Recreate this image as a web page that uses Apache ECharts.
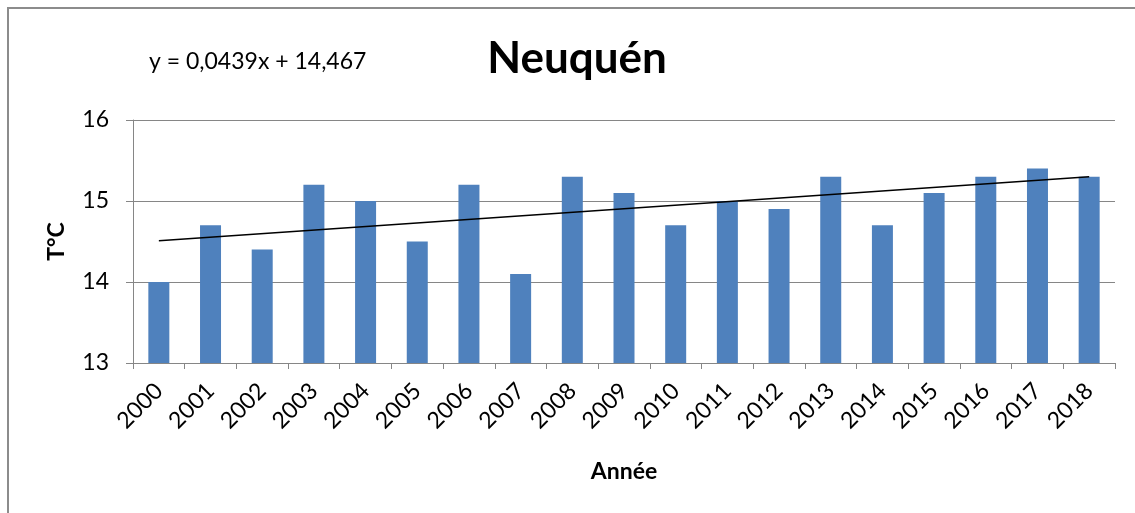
<!DOCTYPE html>
<html>
<head>
<meta charset="utf-8">
<script src="https://cdn.jsdelivr.net/npm/echarts@6/dist/echarts.min.js"></script>
<style>
  html, body { margin: 0; padding: 0; background: #fff; }
  #main { width: 1135px; height: 513px; }
</style>
</head>
<body>
<div id="main"></div>
<script>
// années et températures moyennes
var years = ['2000', '2001', '2002', '2003', '2004', '2005', '2006', '2007', '2008', '2009',
    '2010', '2011', '2012', '2013', '2014', '2015', '2016', '2017', '2018'];
var temps = [14.0, 14.7, 14.4, 15.2, 15.0, 14.5, 15.2, 14.1, 15.3, 15.1,
    14.7, 15.0, 14.9, 15.3, 14.7, 15.1, 15.3, 15.4, 15.3];
// tendance linéaire : extrémités
var trend = [14.51, null, null, null, null, null, null, null, null, null,
    null, null, null, null, null, null, null, null, 15.30];
var equation = 'y = 0,0439x + 14,467';

var myChart = echarts.init(document.getElementById('main'));

var font = 'Lato, "Open Sans", sans-serif';

var option = {
    animation: false,
    backgroundColor: '#fff',
    graphic: [
        {
            type: 'rect',
            shape: { x: 8, y: 8, width: 1140, height: 520 },
            style: { fill: 'none', stroke: '#8c8c8c', lineWidth: 2 }
        },
        {
            type: 'text',
            left: 149,
            top: 50,
            style: { text: equation, font: '23px ' + font, fill: '#000' }
        }
    ],
    title: {
        text: 'Neuquén',
        left: 572,
        top: 32,
        textAlign: 'center',
        textStyle: { fontFamily: font, fontSize: 44, fontWeight: 'bold', color: '#000' }
    },
    grid: { left: 133, right: 20, top: 120, bottom: 150 },
    xAxis: {
        type: 'category',
        data: years,
        name: 'Année',
        nameLocation: 'middle',
        nameGap: 97,
        nameTextStyle: { fontFamily: font, fontSize: 23, fontWeight: 'bold', color: '#000' },
        axisLine: { lineStyle: { color: '#868686', width: 1 } },
        axisTick: { show: true, length: 6, lineStyle: { color: '#868686' } },
        axisLabel: {
            rotate: 45,
            interval: 0,
            margin: 24,
            fontFamily: font,
            fontSize: 23,
            color: '#000'
        }
    },
    yAxis: {
        type: 'value',
        min: 13,
        max: 16,
        interval: 1,
        name: 'T°C',
        nameLocation: 'middle',
        nameGap: 65,
        nameTextStyle: { fontFamily: font, fontSize: 23, fontWeight: 'bold', color: '#000' },
        axisLine: { show: true, lineStyle: { color: '#868686', width: 1 } },
        axisTick: { show: true, length: 7, lineStyle: { color: '#868686' } },
        axisLabel: { fontFamily: font, fontSize: 23, color: '#000', margin: 24 },
        splitLine: { lineStyle: { color: '#868686', width: 1 } }
    },
    series: [
        {
            name: 'T°C',
            type: 'bar',
            data: temps,
            barWidth: 21,
            itemStyle: { color: '#4F81BD' }
        },
        {
            name: 'Linéaire',
            type: 'line',
            data: trend,
            connectNulls: true,
            symbol: 'none',
            lineStyle: { color: '#000', width: 1.5 }
        }
    ]
};

myChart.setOption(option);
</script>
</body>
</html>
